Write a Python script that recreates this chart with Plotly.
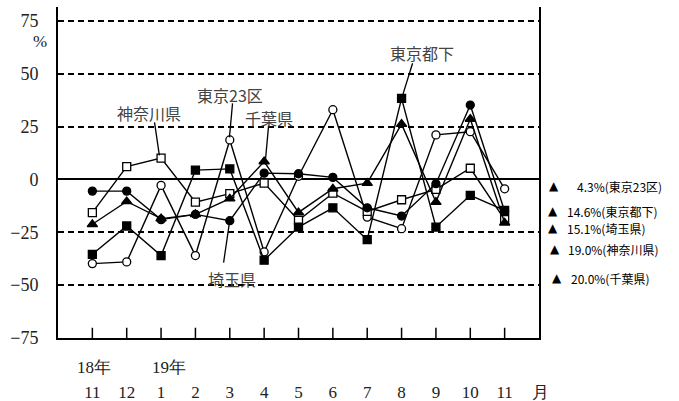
import plotly.graph_objects as go

months = ["11", "12", "1", "2", "3", "4", "5", "6", "7", "8", "9", "10", "11"]
xpos = list(range(len(months)))

tokyo23 = [-39.8, -39.0, -2.8, -36.0, 18.7, -34.3, 1.5, 33.0, -17.8, -23.3, 21.1, 22.6, -4.4]
tokyo_toka = [-35.4, -22.0, -36.0, 4.4, 5.0, -38.2, -22.5, -13.4, -28.5, 38.4, -22.5, -7.5, -14.6]
saitama = [-5.5, -5.5, -19.0, -16.5, -19.5, 3.0, 2.7, 1.0, -13.4, -17.3, -2.0, 35.2, -15.0]
kanagawa = [-15.7, 6.1, 10.1, -10.7, -6.7, -1.7, -19.3, -6.5, -15.1, -9.6, -4.7, 5.3, -19.0]
chiba = [-21.2, -10.4, -18.5, -16.5, -9.1, 8.5, -15.6, -4.4, -1.7, 26.2, -10.7, 28.6, -20.5]

ytick_vals = [-75, -50, -25, 0, 25, 50, 75]
ytick_text = ["−75", "−50", "−25", "0", "25", "50", "75"]

side_values = ["4.3%(東京23区)", "14.6%(東京都下)", "15.1%(埼玉県)", "19.0%(神奈川県)", "20.0%(千葉県)"]

series = [
    ("東京23区", tokyo23, "circle", "white", 8),
    ("神奈川県", kanagawa, "square", "white", 8),
    ("千葉県", chiba, "triangle-up", "black", 9),
    ("埼玉県", saitama, "circle", "black", 8),
    ("東京都下", tokyo_toka, "square", "black", 8),
]

fig = go.Figure()
for name, vals, sym, fill, sz in series:
    fig.add_trace(go.Scatter(
        x=xpos, y=vals, mode="lines+markers", name=name,
        line=dict(color="black", width=1.4),
        marker=dict(symbol=sym, size=sz, color=fill, line=dict(color="black", width=1.3)),
        showlegend=False,
    ))

labels = [
    ("神奈川県", (1.66, 31.3), (1.81, 27.0), (1.95, 11.4)),
    ("東京23区", (4.02, 39.8), (4.08, 36.0), (3.99, 19.9)),
    ("千葉県", (5.13, 28.9), (5.13, 25.6), (5.04, 9.5)),
    ("東京都下", (9.58, 59.7), (9.32, 55.0), (9.03, 39.8)),
    ("埼玉県", (4.05, -46.9), (3.82, -39.3), (3.99, -20.4)),
]
for text, (tx, ty), (x0, y0), (x1, y1) in labels:
    fig.add_annotation(x=tx, y=ty, text=text, showarrow=False,
                       font=dict(family="Noto Sans CJK JP", size=16, color="#444"))
    fig.add_shape(type="line", x0=x0, y0=y0, x1=x1, y1=y1,
                  line=dict(color="black", width=1.3))

# inward tick marks on the bottom axis
for xv in xpos:
    fig.add_shape(type="line", xref="x", yref="y domain", x0=xv, x1=xv, y0=0, y1=0.031,
                  layer="above", line=dict(color="black", width=1.5))

W0, W1 = 58, 539
T0, B0 = 7, 338
def px(xp):
    return (xp - W0) / (W1 - W0)
def py(yp):
    return (B0 - yp) / (B0 - T0)

tri_pos = [(554, 186), (553, 211), (553, 228), (555, 249), (557, 278)]
text_left = [575, 565, 565, 566, 569]
for t, (nx, ny), tl in zip(side_values, tri_pos, text_left):
    fig.add_annotation(xref="paper", yref="paper", x=px(nx), y=py(ny), text="▲",
                       showarrow=False, xanchor="center", yanchor="middle",
                       font=dict(family="DejaVu Sans", size=12, color="black"))
    fig.add_annotation(xref="paper", yref="paper", x=px(tl), y=py(ny), text=t,
                       showarrow=False, xanchor="left", yanchor="middle",
                       font=dict(family="Noto Sans CJK JP", size=12, color="black"))

serif = "Liberation Serif"
for txt, x, y in [("18年", 94, 368), ("19年", 169, 368), ("月", 540, 392)]:
    fig.add_annotation(xref="paper", yref="paper", x=px(x), y=py(y), text=txt, showarrow=False,
                       xanchor="center", yanchor="middle",
                       font=dict(family=serif, size=17, color="#222"))
fig.add_annotation(xref="paper", yref="paper", x=px(40), y=py(41), text="%", showarrow=False,
                   xanchor="center", yanchor="middle",
                   font=dict(family=serif, size=17, color="#222"))

fig.update_xaxes(
    range=[-1, 13], tickmode="array", tickvals=xpos, ticktext=months,
    ticks="", showline=True, linecolor="black", linewidth=2, mirror=False,
    showgrid=False, zeroline=False, ticklabelstandoff=38, automargin=False,
    tickfont=dict(family=serif, size=17, color="#222"),
)
fig.update_yaxes(
    range=[-75, 81.6], tickmode="array", tickvals=ytick_vals, ticktext=ytick_text,
    ticks="", showline=True, linecolor="black", linewidth=2, mirror=True,
    showgrid=True, gridcolor="black", gridwidth=2, griddash="6px,4px",
    zeroline=True, zerolinecolor="black", zerolinewidth=1.5,
    ticklabelstandoff=14, automargin=False,
    tickfont=dict(family=serif, size=18, color="#222"),
)
fig.update_layout(
    width=679, height=401, autosize=False,
    margin=dict(l=58, r=140, t=7, b=63),
    plot_bgcolor="white", paper_bgcolor="white",
)
fig.write_html("out.html")
